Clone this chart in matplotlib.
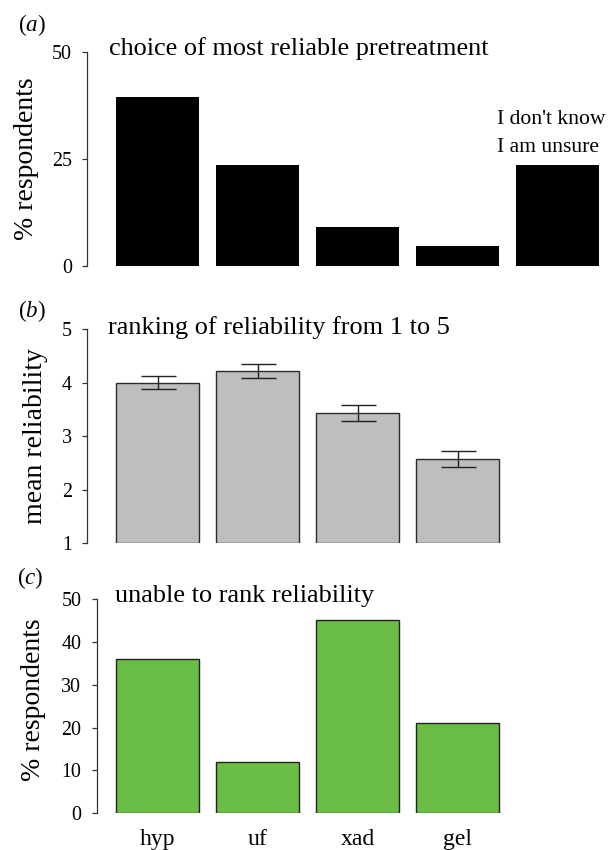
import numpy as np
import matplotlib
matplotlib.use("Agg")
import matplotlib.pyplot as plt

# --- Datos -------------------------------------------------------------------
pretreatments = ["hyp", "uf", "xad", "gel"]

# (a) % que elige cada pretratamiento como el más confiable (+ "no sé")
choice_pct = [39.4, 23.6, 9.2, 4.6, 23.6]
unsure_lines = ["I don't know", "I am unsure"]

# (b) confiabilidad media (1 a 5) y error estándar
mean_rel = np.array([4.00, 4.22, 3.43, 2.58])
se_rel = np.array([0.12, 0.13, 0.15, 0.15])

# (c) % que no pudo rankear la confiabilidad
unable_pct = [36, 12, 45, 21]

titles = ["choice of most reliable pretreatment",
          "ranking of reliability from 1 to 5",
          "unable to rank reliability"]
ylabels = ["% respondents", "mean reliability", "% respondents"]
letters = ["a", "b", "c"]

# --- Estilo -------------------------------------------------------------------
plt.rcParams["font.family"] = ["Liberation Serif", "DejaVu Serif"]
plt.rcParams["mathtext.fontset"] = "custom"
plt.rcParams["mathtext.rm"] = "Liberation Serif"
plt.rcParams["mathtext.it"] = "Liberation Serif:italic"

W, H = 610, 850          # tamaño de la figura en píxeles (dpi 100)
BAR_W, SPACE = 1.0, 0.2  # barras estilo R: ancho 1, separación 0.2
PX_PER_UNIT = 100 / 1.2  # píxeles por unidad del eje x
FIRST_LEFT_PX = 116      # borde izquierdo de la primera barra


def centers(n):
    return SPACE + BAR_W / 2 + np.arange(n) * (BAR_W + SPACE)


def add_panel(fig, left, top, bottom):
    ax = fig.add_axes([left / W, 1 - bottom / H, (W - left) / W, (bottom - top) / H])
    x0 = SPACE - (FIRST_LEFT_PX - left) / PX_PER_UNIT
    x1 = SPACE + (W - FIRST_LEFT_PX) / PX_PER_UNIT
    ax.set_xlim(x0, x1)
    for side in ["top", "right", "bottom"]:
        ax.spines[side].set_visible(False)
    ax.spines["left"].set_color("#333333")
    ax.spines["left"].set_linewidth(0.9)
    ax.tick_params(axis="y", direction="out", length=3.6, width=0.9,
                   color="#333333", pad=7.5, labelsize=14.4)
    ax.tick_params(axis="x", length=0)
    ax.set_xticks([])
    return ax


def fig_text(fig, x, y, s, **kw):
    return fig.text(x / W, 1 - y / H, s, **kw)


fig = plt.figure(figsize=(W / 100, H / 100), dpi=100)

# (a) elección del pretratamiento más confiable
ax_a = add_panel(fig, 87.3, 51.7, 266)
xa = centers(len(choice_pct))
ax_a.bar(xa, choice_pct, width=BAR_W, color="black", edgecolor="none")
ax_a.set_ylim(0, 50)
ax_a.set_yticks([0, 25, 50])
ax_a.text(xa[-1] - 0.73, 33.1, unsure_lines[0], fontsize=15.6, ha="left",
          va="baseline", clip_on=False)
ax_a.text(xa[-1] - 0.73, 26.6, unsure_lines[1], fontsize=15.6, ha="left",
          va="baseline", clip_on=False)

# (b) confiabilidad media con barras de error
ax_b = add_panel(fig, 87.3, 329.3, 543.3)
xb = centers(len(mean_rel))
ax_b.bar(xb, mean_rel - 1, bottom=1, width=BAR_W, color="#BEBEBE",
         edgecolor="#2b2b2b", linewidth=1.0)
ax_b.errorbar(xb, mean_rel, yerr=se_rel, fmt="none", ecolor="#222222",
              elinewidth=1.0, capsize=12.6, capthick=1.0)
ax_b.set_ylim(1, 5)
ax_b.set_yticks([1, 2, 3, 4, 5])

# (c) no pudo rankear
ax_c = add_panel(fig, 96.7, 599, 813.3)
xc = centers(len(unable_pct))
ax_c.bar(xc, unable_pct, width=BAR_W, color="#6ABD45", edgecolor="#222222",
         linewidth=1.0)
ax_c.set_ylim(0, 50)
ax_c.set_yticks([0, 10, 20, 30, 40, 50])
ax_c.set_xticks(xc, pretreatments)
ax_c.tick_params(axis="x", length=0, pad=11.5, labelsize=17)

# títulos, etiquetas de eje y letras de panel (posiciones en píxeles)
title_pos = [(109.3, 55.3), (108.3, 334), (115, 601.7)]
ylabel_pos = [(33, 158.9), (42, 436.3), (39.5, 700)]
letter_pos = [(18, 25.5), (18, 311.5), (17, 578.5)]
for i in range(3):
    fig_text(fig, *title_pos[i], titles[i], fontsize=18.9, ha="left", va="baseline")
    fig_text(fig, *ylabel_pos[i], ylabels[i], fontsize=20, rotation=90,
             rotation_mode="anchor", ha="center", va="baseline")
    fig_text(fig, *letter_pos[i], r"($\mathit{%s}$)" % letters[i], fontsize=16.6,
             ha="left", va="center")

fig.savefig("out.png", dpi=100)
